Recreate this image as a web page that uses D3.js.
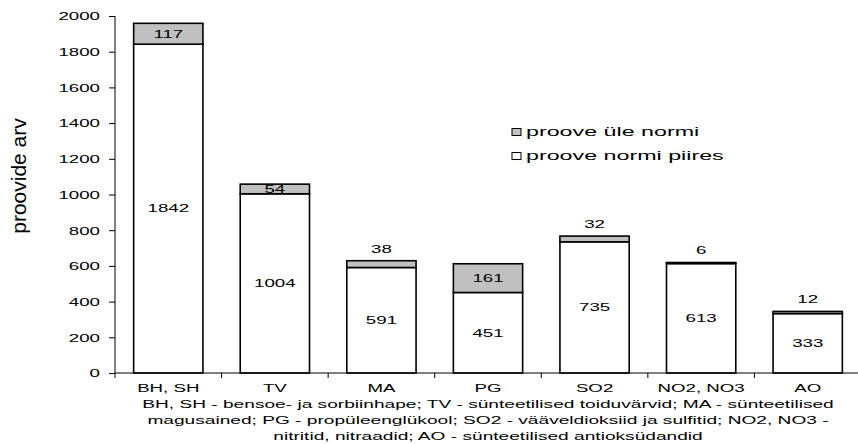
<!DOCTYPE html>
<html>
<head>
<meta charset="utf-8">
<script src="https://cdn.jsdelivr.net/npm/d3@7"></script>
<style>
  html, body { margin: 0; padding: 0; background: #fff; }
  svg { display: block; }
  text { font-family: "Liberation Sans", Arial, sans-serif; fill: #000; }
</style>
</head>
<body>
<svg id="chart" width="858" height="444"></svg>
<script>
// Lisaainete proovid: normi piires ja üle normi
const categories = ["BH, SH", "TV", "MA", "PG", "SO2", "NO2, NO3", "AO"];
const withinNorm = [1842, 1004, 591, 451, 735, 613, 333];
const overNorm = [117, 54, 38, 161, 32, 6, 12];
const yTicks = [0, 200, 400, 600, 800, 1000, 1200, 1400, 1600, 1800, 2000];
const legendLabels = ["proove üle normi", "proove normi piires"];
const yTitle = "proovide arv";
const noteLines = [
  "BH, SH - bensoe- ja sorbiinhape; TV - sünteetilised toiduvärvid; MA - sünteetilised",
  "magusained; PG - propüleenglükool; SO2 - vääveldioksiid ja sulfitid; NO2, NO3 -",
  "nitritid, nitraadid; AO - sünteetilised antioksüdandid"
];

const GREY = "#c0c0c0";
const SX = 1.7;          // horizontal stretch of the chart lettering
const FS = 11;

const svg = d3.select("#chart");
const plotLeft = 115, plotRight = 861, plotTop = 16, plotBottom = 373;

const x = d3.scaleBand().domain(categories).range([plotLeft, plotRight])
  .paddingInner(0.35).paddingOuter(0.175);
const y = d3.scaleLinear().domain([0, 2000]).range([plotBottom, plotTop]);

// stretched text helper
function label(g, tx, ty, str, opts = {}) {
  const sx = opts.sx || SX;
  return g.append("text")
    .attr("transform", `translate(${tx},${ty}) scale(${sx},1)`)
    .attr("text-anchor", opts.anchor || "middle")
    .attr("dy", opts.dy || "0.35em")
    .style("font-size", (opts.fs || FS) + "px")
    .text(str);
}

// bars
const rows = categories.map((c, i) => ({ c, a: withinNorm[i], b: overNorm[i] }));
const bars = svg.append("g");
rows.forEach(d => {
  const bx = x(d.c), bw = x.bandwidth();
  bars.append("rect")
    .attr("x", bx).attr("width", bw)
    .attr("y", y(d.a)).attr("height", y(0) - y(d.a))
    .attr("fill", "#fff").attr("stroke", "#000").attr("stroke-width", 1.6);
  bars.append("rect")
    .attr("x", bx).attr("width", bw)
    .attr("y", y(d.a + d.b)).attr("height", y(d.a) - y(d.a + d.b))
    .attr("fill", GREY).attr("stroke", "#000").attr("stroke-width", 1.6);
});

// value labels
const lab = svg.append("g");
rows.forEach(d => {
  const cx = x(d.c) + x.bandwidth() / 2;
  label(lab, cx, (y(0) + y(d.a)) / 2, d.a);
  const segH = y(d.a) - y(d.a + d.b);
  const ly = segH >= 8 ? (y(d.a) + y(d.a + d.b)) / 2 : y(d.a + d.b) - 12;
  label(lab, cx, ly, d.b);
});

// y axis
const yAxis = svg.append("g").attr("transform", `translate(${plotLeft},0)`)
  .call(d3.axisLeft(y).tickValues(yTicks).tickSize(6).tickPadding(0).tickFormat(d3.format("d")));
yAxis.attr("font-family", null).attr("font-size", null);
yAxis.select(".domain").attr("stroke", "#000").attr("d", `M0,${plotTop}V${plotBottom}`);
yAxis.selectAll(".tick line").attr("stroke", "#000");
yAxis.selectAll(".tick text")
  .attr("x", null)
  .attr("transform", `translate(-15,0) scale(${SX},1)`)
  .attr("dy", "0.35em")
  .style("font-size", FS + "px");

// x axis with ticks at category boundaries
const xg = svg.append("g");
xg.append("line").attr("x1", plotLeft).attr("x2", plotRight)
  .attr("y1", plotBottom).attr("y2", plotBottom).attr("stroke", "#000");
const step = x.step();
d3.range(categories.length + 1).forEach(i => {
  const tx = plotLeft + i * step;
  xg.append("line").attr("x1", tx).attr("x2", tx)
    .attr("y1", plotBottom).attr("y2", plotBottom + 5).attr("stroke", "#000");
});
categories.forEach(c => label(xg, x(c) + x.bandwidth() / 2, 388, c));

// explanatory note under the axis
noteLines.forEach((s, i) => label(svg, 488, 404 + i * 16, s, { sx: 1.74 }));

// y title
svg.append("text")
  .attr("transform", "translate(25.5,176) rotate(-90)")
  .attr("text-anchor", "middle")
  .style("font-size", "21px")
  .text(yTitle);

// legend
const lg = svg.append("g");
const legendFills = [GREY, "#fff"];
legendLabels.forEach((s, i) => {
  const ly = 132 + i * 24;
  lg.append("rect").attr("x", 512).attr("y", ly - 3.5).attr("width", 9).attr("height", 7)
    .attr("fill", legendFills[i]).attr("stroke", "#000").attr("stroke-width", 1);
  label(lg, 526, ly, s, { anchor: "start", fs: 12, sx: 1.94 });
});
</script>
</body>
</html>
